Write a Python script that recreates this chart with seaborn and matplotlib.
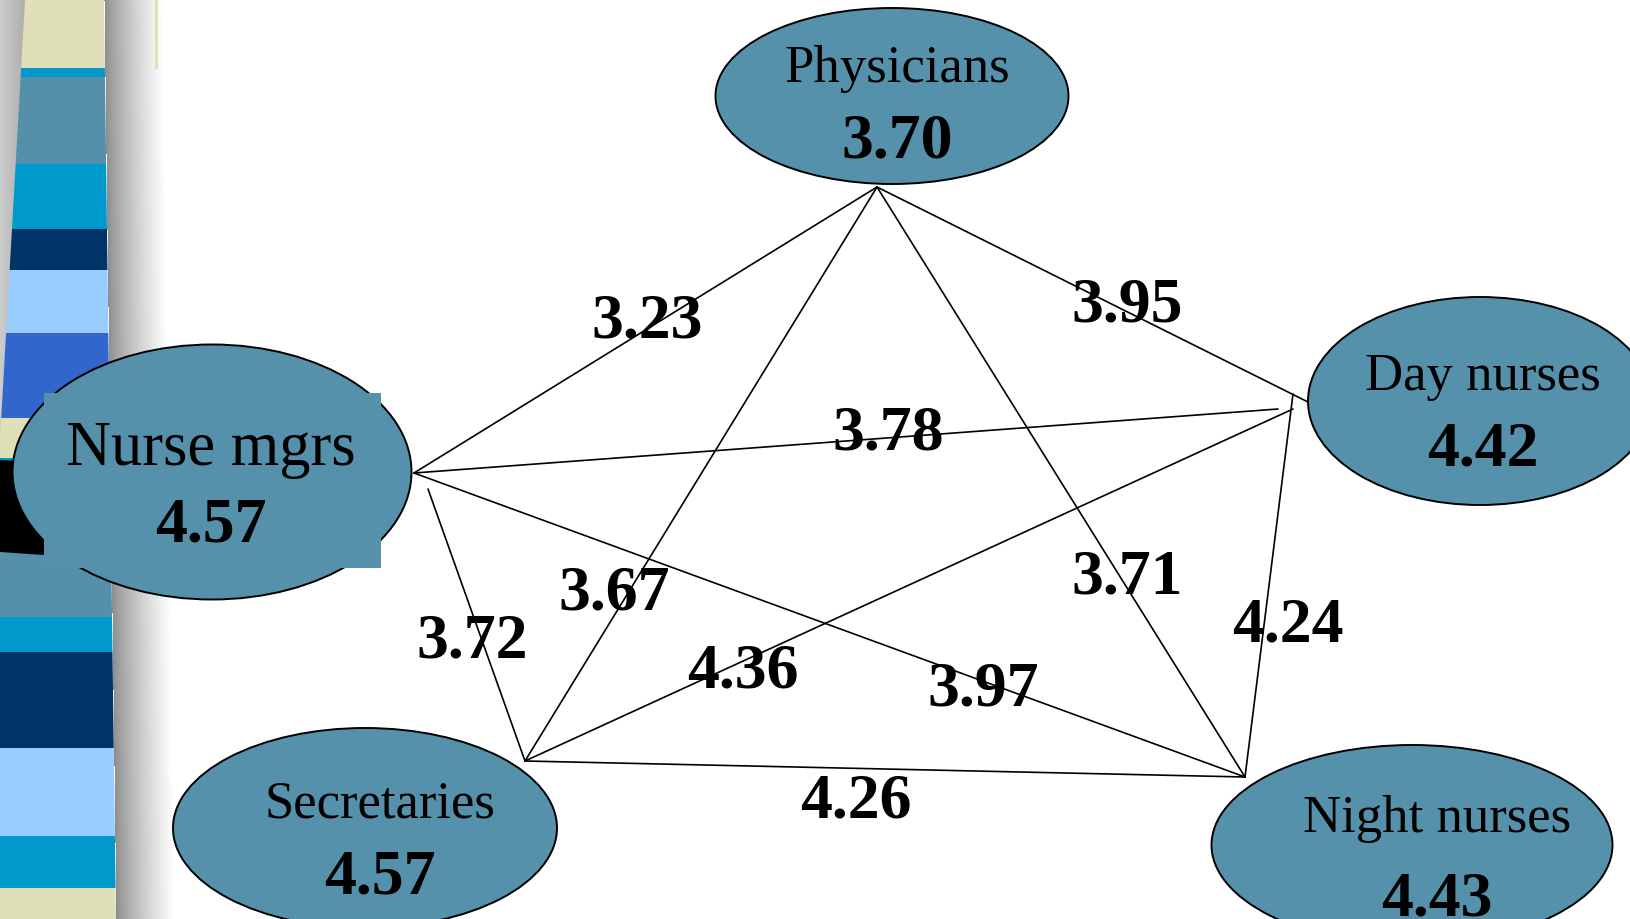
import numpy as np
import pandas as pd
import matplotlib
matplotlib.use("Agg")
import matplotlib.pyplot as plt
from matplotlib.patches import Ellipse, Rectangle, Polygon
import seaborn as sns

# ---- data -------------------------------------------------------------
groups = ["Physicians", "Nurse mgrs", "Day nurses", "Secretaries", "Night nurses"]
group_scores = [3.70, 4.57, 4.42, 4.57, 4.43]

edge_from = ["Physicians", "Physicians", "Physicians", "Physicians",
             "Nurse mgrs", "Nurse mgrs", "Nurse mgrs",
             "Day nurses", "Day nurses", "Secretaries"]
edge_to = ["Nurse mgrs", "Day nurses", "Secretaries", "Night nurses",
           "Day nurses", "Secretaries", "Night nurses",
           "Secretaries", "Night nurses", "Night nurses"]
edge_scores = [3.23, 3.95, 3.67, 3.71, 3.78, 3.72, 3.97, 4.36, 4.24, 4.26]

# ---- layout (pixel space of the slide) -------------------------------
W, H = 1631, 919
FILL = "#5591ab"

# ellipse: center x, center y, width, height ; text x, name baseline, value baseline, name size
node_layout = {
    "Physicians":   dict(ell=(892, 96, 353, 176), tx=897, nb=82, vb=157, ns=38),
    "Nurse mgrs":   dict(ell=(212, 472, 399, 255), tx=211, nb=465, vb=542, ns=45),
    "Day nurses":   dict(ell=(1480, 401, 344, 208), tx=1483, nb=390, vb=465, ns=38),
    "Secretaries":  dict(ell=(365, 828, 384, 200), tx=380, nb=817, vb=893, ns=38),
    "Night nurses": dict(ell=(1412, 845, 401, 200), tx=1437, nb=832, vb=915, ns=38),
}

# endpoints of each connector and the label anchor (x, baseline)
edge_layout = [
    ((877, 187), (414, 473), (647, 337)),
    ((877, 187), (1308, 402), (1127, 322)),
    ((877, 187), (525, 761), (614, 610)),
    ((877, 187), (1245, 777), (1127, 593)),
    ((414, 473), (1278, 409), (888, 450)),
    ((428, 489), (525, 761), (472, 657)),
    ((414, 473), (1245, 777), (983, 705)),
    ((1293, 409), (525, 761), (743, 688)),
    ((1293, 394), (1245, 777), (1288, 642)),
    ((525, 761), (1245, 777), (856, 817)),
]

# decorative side strip bands: (top, bottom, colour)
band_tops = [0, 68, 77, 164, 229, 270, 333, 418, 458, 462, 617, 652, 748, 836, 888]
band_bottoms = [68, 77, 164, 229, 270, 333, 418, 458, 462, 617, 652, 748, 836, 888, 919]
band_colors = ["#e0e0b8", "#0099cc", "#5590aa", "#0099cc", "#003366", "#99ccff",
               "#3366cc", "#e0e0b8", "#0099cc", "#5590aa", "#0099cc", "#003366",
               "#99ccff", "#0099cc", "#e0e0b8"]

# ---- figure -----------------------------------------------------------
sns.set_theme(style="white")
plt.rcParams["font.family"] = ["Liberation Serif", "DejaVu Serif"]

fig = plt.figure(figsize=(W / 100, H / 100), dpi=100)
ax = fig.add_axes([0, 0, 1, 1])
ax.set_xlim(0, W)
ax.set_ylim(H, 0)
ax.axis("off")

# shading around the side strip
yy, xx = np.mgrid[0:H, 0:200].astype(float)
right_edge = 104 + 12 * yy / H
left_edge = np.clip(25 - 25 * yy / 440, 0, None)
shade = np.ones_like(xx)
t = np.clip((xx - right_edge) / 58.0, 0, 1)
shade = np.where(xx >= right_edge, 0.55 + 0.45 * t ** 0.8, shade)
lg = 0.80 - 0.12 * np.clip(xx / 25.0, 0, 1)
shade = np.where(xx < left_edge + 1, lg, shade)
img = np.dstack([shade, shade, shade])
ax.imshow(img, extent=(0, 200, H, 0), aspect="auto", zorder=0, interpolation="bilinear")

strip = Polygon([(25, 0), (104, 0), (116, H), (0, H), (0, 440)], closed=True,
                facecolor="none", edgecolor="none")
ax.add_patch(strip)
for top, bot, col in zip(band_tops, band_bottoms, band_colors):
    r = Rectangle((0, top), 130, bot - top, facecolor=col, edgecolor="none", zorder=1)
    ax.add_patch(r)
    r.set_clip_path(strip)
ax.add_patch(Polygon([(0, 460), (44, 462), (44, 555), (0, 552)], closed=True,
                     facecolor="black", edgecolor="none", zorder=1.5))
ax.add_patch(Rectangle((155, 0), 3, 69, facecolor="#e0e0b8", edgecolor="none", zorder=1))

# connectors
rows = []
for i, (p0, p1, _) in enumerate(edge_layout):
    rows.append(dict(edge=i, x=p0[0], y=p0[1]))
    rows.append(dict(edge=i, x=p1[0], y=p1[1]))
edges_df = pd.DataFrame(rows)
sns.lineplot(data=edges_df, x="x", y="y", units="edge", estimator=None, sort=False,
             color="black", linewidth=1.2, ax=ax, legend=False, zorder=2)
ax.set_xlim(0, W)
ax.set_ylim(H, 0)
ax.axis("off")

for val, (_, _, (lx, lb)) in zip(edge_scores, edge_layout):
    ax.text(lx, lb, f"{val:.2f}", fontsize=46, fontweight="bold", ha="center",
            va="baseline", color="black", zorder=6)

# group nodes
for name, score in zip(groups, group_scores):
    lay = node_layout[name]
    cx, cy, w, h = lay["ell"]
    ax.add_patch(Ellipse((cx, cy), w, h, facecolor=FILL, edgecolor="black",
                         linewidth=1.4, zorder=3))
    if name == "Nurse mgrs":
        ax.add_patch(Rectangle((44, 393), 337, 175, facecolor=FILL,
                               edgecolor="none", zorder=3.5))
    ax.text(lay["tx"], lay["nb"], name, fontsize=lay["ns"], ha="center",
            va="baseline", color="black", zorder=5)
    ax.text(lay["tx"], lay["vb"], f"{score:.2f}", fontsize=46, fontweight="bold",
            ha="center", va="baseline", color="black", zorder=5)

fig.savefig("out.png", dpi=100)
